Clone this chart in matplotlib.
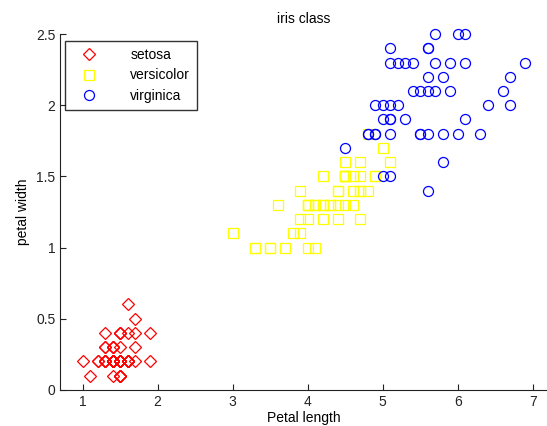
import matplotlib
matplotlib.use("Agg")
import matplotlib.pyplot as plt

setosa_pl = [1.4,1.4,1.3,1.5,1.4,1.7,1.4,1.5,1.4,1.5,1.5,1.6,1.4,1.1,1.2,1.5,1.3,1.4,1.7,1.5,1.7,1.5,1.0,1.7,1.9,1.6,1.6,1.5,1.4,1.6,1.6,1.5,1.5,1.4,1.5,1.2,1.3,1.5,1.3,1.5,1.3,1.3,1.3,1.6,1.9,1.4,1.6,1.4,1.5,1.4]
setosa_pw = [0.2,0.2,0.2,0.2,0.2,0.4,0.3,0.2,0.2,0.1,0.2,0.2,0.1,0.1,0.2,0.4,0.4,0.3,0.3,0.3,0.2,0.4,0.2,0.5,0.2,0.2,0.4,0.2,0.2,0.2,0.2,0.4,0.1,0.2,0.1,0.2,0.2,0.1,0.2,0.2,0.3,0.3,0.2,0.6,0.4,0.3,0.2,0.2,0.2,0.2]
versicolor_pl = [4.7,4.5,4.9,4.0,4.6,4.5,4.7,3.3,4.6,3.9,3.5,4.2,4.0,4.7,3.6,4.4,4.5,4.1,4.5,3.9,4.8,4.0,4.9,4.7,4.3,4.4,4.8,5.0,4.5,3.5,3.8,3.7,3.9,5.1,4.5,4.5,4.7,4.4,4.1,4.0,4.4,4.6,4.0,3.3,4.2,4.2,4.2,4.3,3.0,4.1]
versicolor_pw = [1.4,1.5,1.5,1.3,1.5,1.3,1.6,1.0,1.3,1.4,1.0,1.5,1.0,1.4,1.3,1.4,1.5,1.0,1.5,1.1,1.8,1.3,1.5,1.2,1.3,1.4,1.4,1.7,1.5,1.0,1.1,1.0,1.2,1.6,1.5,1.6,1.5,1.3,1.3,1.3,1.2,1.4,1.2,1.0,1.3,1.2,1.3,1.3,1.1,1.3]
virginica_pl = [6.0,5.1,5.9,5.6,5.8,6.6,4.5,6.3,5.8,6.1,5.1,5.3,5.5,5.0,5.1,5.3,5.5,6.7,6.9,5.0,5.7,4.9,6.7,4.9,5.7,6.0,4.8,4.9,5.6,5.8,6.1,6.4,5.6,5.1,5.6,6.1,5.6,5.5,4.8,5.4,5.6,5.1,5.1,5.9,5.7,5.2,5.0,5.2,5.4,5.1]
virginica_pw = [2.5,1.9,2.1,1.8,2.2,2.1,1.7,1.8,1.8,2.5,2.0,1.9,2.1,2.0,2.4,2.3,1.8,2.2,2.3,1.5,2.3,2.0,2.0,1.8,2.1,1.8,1.8,1.8,2.1,1.6,1.9,2.0,2.2,1.5,1.4,2.3,2.4,1.8,1.8,2.1,2.4,2.3,1.9,2.3,2.5,2.3,1.9,2.0,2.3,1.8]

labels = ["setosa", "versicolor", "virginica"]
xticks = [1, 2, 3, 4, 5, 6, 7]
yticks = [0, 0.5, 1, 1.5, 2, 2.5]

plt.rcParams['font.family'] = ['Liberation Sans', 'DejaVu Sans']
fig = plt.figure(figsize=(5.47, 4.26), dpi=100)
ax = fig.add_axes([0.11, 0.085, 0.89, 0.835])

ax.plot(setosa_pl, setosa_pw, linestyle='none', marker='D', markersize=5.8,
        markerfacecolor='none', markeredgecolor='#ff0000', markeredgewidth=0.9,
        label=labels[0], clip_on=False)
ax.plot(versicolor_pl, versicolor_pw, linestyle='none', marker='s', markersize=6.8,
        markerfacecolor='none', markeredgecolor='#ffff00', markeredgewidth=0.9,
        label=labels[1], clip_on=False)
ax.plot(virginica_pl, virginica_pw, linestyle='none', marker='o', markersize=7.2,
        markerfacecolor='none', markeredgecolor='#0000ff', markeredgewidth=0.9,
        label=labels[2], clip_on=False)

ax.set_xlim(0.7, 7.19)
ax.set_ylim(0, 2.5)
ax.set_xticks(xticks)
ax.set_xticklabels([str(t) for t in xticks])
ax.set_yticks(yticks)
ax.set_yticklabels(['0', '0.5', '1', '1.5', '2', '2.5'])
ax.tick_params(direction='in', length=4, labelsize=10, colors='#222222', width=0.8)
for s in ['top', 'right']:
    ax.spines[s].set_visible(False)
for s in ['left', 'bottom']:
    ax.spines[s].set_color('#222222')
    ax.spines[s].set_linewidth(0.8)

ax.set_xlabel('Petal length', fontsize=10, labelpad=2)
ax.set_ylabel('petal width', fontsize=10, labelpad=4)
ax.set_title('iris class', fontsize=10, pad=8)

leg = ax.legend(loc='upper left', bbox_to_anchor=(0.01, 0.98), frameon=True, fancybox=False,
                edgecolor='black', fontsize=10, handletextpad=1.8, borderpad=0.5,
                labelspacing=0.45, handlelength=2.4, borderaxespad=0.0)
leg.get_frame().set_linewidth(1.0)

fig.savefig('out.png', dpi=100)
